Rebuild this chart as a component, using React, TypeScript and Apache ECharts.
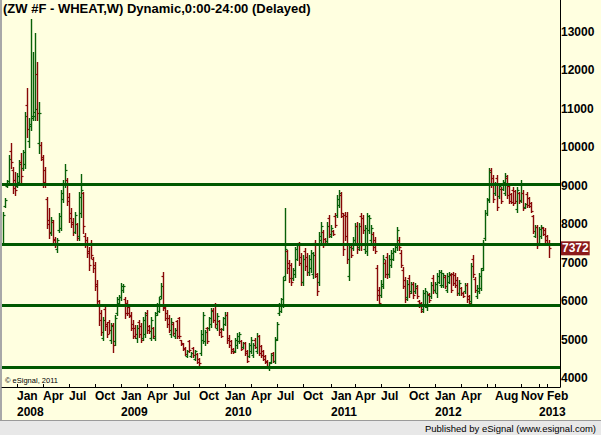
import React, { useEffect, useRef } from "react";
import * as echarts from "echarts";

const TITLE = "(ZW #F - WHEAT,W) Dynamic,0:00-24:00 (Delayed)";
const COPYRIGHT = "\u00A9 eSignal, 2011";
const PUBLISHED = "Published by eSignal (www.esignal.com)";
const FIRST_WEEK_UTC = [2007, 10, 16]; // Fri 16 Nov 2007
const PAD_WEEKS = 5;

// weekly bars: [open, close, low, high]
const bars2007: number[][] = [
  [7520, 8240, 7460, 8320], [8470, 8640, 8450, 8680], [9000, 9110, 8970, 9150], [9080, 9700, 9020, 9800],
  [9900, 9620, 9460, 10100], [9420, 8950, 8810, 9490], [9150, 8880, 8760, 9360],
];
const bars2008: number[][] = [
  [9000, 9260, 8970, 9330], [9100, 9560, 9020, 9670], [9620, 9250, 9020, 9850], [9450, 9870, 9410, 9930],
  [9560, 10820, 9460, 10920], [11100, 10480, 10270, 11540], [10150, 10600, 10010, 10760], [10550, 10800, 10450, 13330],
  [10760, 10920, 10710, 12480], [10800, 11000, 10710, 12970], [11900, 10900, 10710, 12220], [10100, 10900, 9860, 11180],
  [10050, 9750, 9670, 10140], [9700, 9100, 8970, 9800], [9400, 9050, 8970, 9490], [8650, 8000, 7900, 8710],
  [8100, 7800, 7640, 8420], [7780, 8100, 7720, 8190], [8050, 7600, 7510, 8110], [7620, 7450, 7410, 7670],
  [7350, 7600, 7280, 7640], [7850, 8200, 7800, 8290], [7900, 8800, 7850, 8890], [8650, 9050, 8580, 9150],
  [9050, 9400, 8970, 9560], [9150, 8600, 8500, 9200], [8700, 8150, 8060, 8810], [8300, 8000, 7930, 8420],
  [8050, 7800, 7720, 8160], [7800, 8250, 7770, 8320], [8000, 7650, 7590, 8030], [7700, 8700, 7590, 8840],
  [8300, 8900, 8190, 9300], [8800, 7950, 7770, 8840], [7700, 7450, 7410, 7770], [7600, 7250, 7150, 7670],
  [7300, 6950, 6810, 7410], [7500, 7200, 7120, 7590], [7100, 6850, 6760, 7150], [6950, 6400, 6290, 7020],
  [6450, 6000, 5900, 6550], [6000, 5500, 5380, 6030], [5700, 5200, 5120, 5770], [5050, 5500, 4990, 5590],
  [5800, 5350, 5250, 5900], [5400, 5150, 5070, 5460], [5450, 5250, 5170, 5510], [5000, 5350, 4910, 5430],
  [5380, 4850, 4680, 5430], [4950, 5550, 4860, 5640], [5700, 6050, 5640, 6110], [5950, 6100, 5900, 6160],
];
const bars2009: number[][] = [
  [6100, 6380, 6030, 6470], [6280, 6400, 6240, 6440], [6050, 5700, 5560, 6110], [5950, 5700, 5640, 6030],
  [5850, 5620, 5590, 5900], [5650, 5300, 5250, 5720], [5400, 5100, 5040, 5510], [5300, 5150, 5040, 5380],
  [5050, 5300, 4940, 5380], [5450, 5150, 5070, 5510], [5350, 5000, 4940, 5430], [5050, 5500, 4990, 5590],
  [5150, 5650, 5070, 5720], [5700, 5250, 5170, 5770], [5350, 5220, 5170, 5380], [5050, 5500, 4990, 5590],
  [5300, 5100, 5040, 5330], [5050, 5650, 4990, 5720], [5680, 5900, 5640, 5950], [5750, 6050, 5720, 6110],
  [6120, 6400, 6080, 6470], [6650, 5850, 5770, 6760], [5820, 5560, 5510, 5850], [5700, 5400, 5330, 5770],
  [5550, 5250, 5200, 5640], [5150, 5450, 5070, 5560], [5400, 5180, 5120, 5460], [5080, 5250, 5040, 5300],
  [5480, 5100, 5040, 5510], [5550, 5100, 5040, 5590], [4980, 4880, 4860, 4990], [4900, 4760, 4730, 4910],
  [4780, 4630, 4600, 4810], [4580, 4700, 4550, 4730], [4950, 4720, 4680, 4990], [4570, 4660, 4550, 4680],
  [4780, 4600, 4550, 4810], [4500, 4700, 4470, 4730], [4620, 4420, 4390, 4650], [4500, 4380, 4340, 4520],
  [4650, 5150, 4600, 5250], [5000, 5650, 4910, 5720], [4950, 5200, 4860, 5250], [5300, 4950, 4910, 5330],
  [5300, 5550, 5250, 5590], [5400, 5750, 5330, 5820], [5780, 5500, 5460, 5820], [5900, 5400, 5330, 5950],
  [5300, 5600, 5250, 5690], [5480, 5200, 5120, 5510], [5280, 5100, 5070, 5300], [5280, 5550, 5250, 5590],
];
const bars2010: number[][] = [
  [5400, 5650, 5380, 5720], [5650, 5000, 4910, 5720], [5050, 4850, 4810, 5120], [4950, 4700, 4650, 4990],
  [4760, 4680, 4650, 4780], [4700, 4980, 4680, 5040], [4850, 5100, 4780, 5170], [4950, 5150, 4910, 5200],
  [4960, 4760, 4730, 4990], [4800, 4900, 4780, 4940], [4900, 4650, 4600, 4940], [4700, 4450, 4420, 4730],
  [4580, 4850, 4550, 4910], [4700, 5000, 4650, 5070], [4600, 4850, 4550, 4910], [5000, 4800, 4780, 5040],
  [4700, 5100, 4650, 5170], [5080, 4650, 4600, 5120], [4830, 4600, 4550, 4860], [4700, 4500, 4470, 4730],
  [4580, 4420, 4390, 4600], [4450, 4320, 4290, 4470], [4250, 4380, 4210, 4420], [4420, 4600, 4390, 4650],
  [4650, 4450, 4420, 4680], [4450, 5000, 4390, 5070], [5020, 5400, 4990, 5460], [5680, 5900, 5640, 5950],
  [5750, 6050, 5720, 6080], [5900, 6550, 5850, 6630], [6650, 7350, 6550, 8420], [7300, 6850, 6730, 7330],
  [7000, 6600, 6500, 7070], [6950, 6500, 6420, 6990], [6600, 6800, 6550, 6860], [6700, 7350, 6630, 7410],
  [7100, 7450, 7070, 7510], [7500, 7000, 6940, 7540], [7150, 6500, 6420, 7250], [6500, 7100, 6420, 7200],
  [7300, 6900, 6810, 7380], [7150, 6750, 6680, 7250], [6750, 7100, 6680, 7200], [6850, 7250, 6760, 7330],
  [6700, 7200, 6600, 7280], [7500, 6700, 6630, 7590], [6650, 6250, 6160, 6730], [6500, 7700, 6420, 7800],
  [7600, 7950, 7510, 8060], [7800, 7450, 7410, 7850], [7620, 7560, 7540, 7640], [7550, 7950, 7510, 8060],
  [8150, 7750, 7670, 8240],
];
const bars2011: number[][] = [
  [7700, 7900, 7670, 7980], [7830, 7750, 7720, 7850], [8200, 7980, 7930, 8290], [8250, 8650, 8190, 8760],
  [8500, 8800, 8450, 8890], [8750, 8300, 8190, 8840], [8200, 7350, 7200, 8290], [8250, 7700, 7590, 8320],
  [8200, 7100, 6990, 8320], [6650, 7400, 6550, 7510], [7450, 7200, 7150, 7510], [7380, 7600, 7330, 7670],
  [7600, 7950, 7540, 8030], [7950, 7350, 7250, 8060], [7400, 7950, 7330, 8030], [8200, 7450, 7330, 8290],
  [8150, 7850, 7770, 8240], [7350, 7900, 7250, 7980], [7300, 8200, 7200, 8290], [7850, 8150, 7770, 8240],
  [7600, 7900, 7510, 7980], [7750, 7400, 7330, 7800], [7600, 7300, 7250, 7670], [6850, 6150, 6030, 6940],
  [6300, 5950, 5900, 6370], [6150, 6450, 6110, 6550], [6400, 7100, 6340, 7200], [7000, 6700, 6630, 7070],
  [7150, 6700, 6600, 7250], [6700, 7100, 6630, 7200], [6950, 7250, 6890, 7330], [7100, 7300, 7070, 7380],
  [7300, 7450, 7280, 7510], [7400, 7850, 7330, 7930], [7600, 7400, 7330, 7670], [7250, 6950, 6890, 7330],
  [6800, 6400, 6340, 6890], [6550, 6050, 5980, 6630], [6100, 6450, 6030, 6550], [6600, 6200, 6110, 6680],
  [6250, 6450, 6210, 6500], [6450, 6150, 6080, 6500], [6250, 6400, 6210, 6470], [6350, 6120, 6080, 6420],
  [6000, 5880, 5850, 6030], [5950, 5750, 5720, 5980], [5800, 6200, 5720, 6290], [5900, 6250, 5850, 6340],
  [5850, 6150, 5770, 6240], [6180, 6020, 5980, 6210], [6120, 6420, 6080, 6500], [6600, 6280, 6210, 6680],
];
const bars2012: number[][] = [
  [6280, 6450, 6240, 6500], [6200, 6650, 6110, 6730], [6500, 6750, 6470, 6810], [6420, 6720, 6370, 6810],
  [6420, 6680, 6370, 6730], [6620, 6400, 6340, 6680], [6300, 6650, 6240, 6730], [6500, 6700, 6470, 6760],
  [6680, 6300, 6240, 6730], [6700, 6480, 6420, 6760], [6680, 6420, 6370, 6730], [6550, 6220, 6160, 6630],
  [6200, 6480, 6160, 6550], [6330, 6200, 6160, 6370], [6220, 6130, 6110, 6240], [6250, 6420, 6210, 6470],
  [6420, 6050, 5980, 6470], [6120, 5950, 5900, 6160], [6000, 6900, 5950, 6990], [7100, 6700, 6630, 7200],
  [6580, 6300, 6240, 6630], [6120, 6350, 6080, 6420], [6250, 6650, 6210, 6730], [6350, 6800, 6290, 6860],
  [6850, 7500, 6810, 7590], [7650, 8300, 7590, 8370], [8280, 8620, 8240, 8680], [8650, 9350, 8580, 9460],
  [9400, 9050, 8970, 9460], [9200, 8650, 8580, 9280], [8800, 9050, 8760, 9100], [9200, 8450, 8370, 9280],
  [8720, 9000, 8680, 9070], [8920, 8600, 8550, 8970], [8920, 9100, 8890, 9150], [8800, 9250, 8760, 9330],
  [9200, 8750, 8680, 9280], [9000, 8600, 8550, 9070], [8780, 8580, 8550, 8810], [8900, 8550, 8500, 8970],
  [8850, 8600, 8550, 8890], [8400, 8900, 8320, 8970], [8800, 8600, 8550, 8840], [8620, 9050, 8580, 9150],
  [8820, 8420, 8370, 8890], [8440, 8520, 8420, 8550], [8780, 8500, 8450, 8840], [8680, 8480, 8450, 8710],
  [8550, 8350, 8320, 8580], [8200, 7820, 7770, 8240], [7700, 7930, 7670, 7980], [7920, 7450, 7380, 7980],
];
const bars2013: number[][] = [
  [7500, 7880, 7460, 7930], [7680, 7930, 7640, 7980], [7900, 7750, 7720, 7930], [7850, 7580, 7540, 7900],
  [7680, 7500, 7460, 7720], [7500, 7372, 7150, 7590],
];

const levels = [9040, 7470, 5880, 4270];
const yTicks = [4000, 5000, 6000, 7000, 8000, 9000, 10000, 11000, 12000, 13000];
const Y_MIN = 3766;
const Y_MAX = 13828;
const monthNames = ["Jan", "Feb", "Mar", "Apr", "May", "Jun", "Jul", "Aug", "Sep", "Oct", "Nov", "Dec"];
const monthLabelKeys = [
  "2008-01", "2008-04", "2008-07", "2008-10", "2009-01", "2009-04", "2009-07", "2009-10",
  "2010-01", "2010-04", "2010-07", "2010-10", "2011-01", "2011-04", "2011-07", "2011-10",
  "2012-01", "2012-04", "2012-08", "2012-11", "2013-02",
];
const yearLabelKeys = ["2008-01", "2009-01", "2010-01", "2011-01", "2012-01", "2013-01"];
const tickKeys = [...monthLabelKeys, "2012-07", "2013-01"];

const UP = "#086008";
const DOWN = "#880808";
const LEVEL = "#005800";
const FONT = "'Liberation Sans', Arial, sans-serif";

export default function App() {
  const ref = useRef<HTMLDivElement>(null);
  useEffect(() => {
    const chart = echarts.init(ref.current!, null, { renderer: "svg" });
    const allBars = [...bars2007, ...bars2008, ...bars2009, ...bars2010, ...bars2011, ...bars2012, ...bars2013];
    const lastClose = allBars[allBars.length - 1][1];
    const t0 = Date.UTC(FIRST_WEEK_UTC[0], FIRST_WEEK_UTC[1], FIRST_WEEK_UTC[2]);
    const weeks: string[] = [];
    for (let i = 0; i < allBars.length + PAD_WEEKS; i++) {
      weeks.push(new Date(t0 + i * 7 * 86400000).toISOString().slice(0, 10));
    }
    const isFirstWeek = (v: string) => Number(v.slice(8, 10)) <= 7;
    const data = allBars.map((b, i) => [i, b[0], b[1], b[2], b[3]]);
    const labelStyle = {
      color: "#000",
      fontFamily: FONT,
      fontWeight: "bold",
      fontSize: 12,
    };

    const option: any = {
      animation: false,
      backgroundColor: "#ffffe0",
      grid: { left: 2, right: 41, top: 0, bottom: 48, containLabel: false, outerBoundsMode: "none" },
      xAxis: [
        {
          type: "category",
          data: weeks,
          position: "bottom",
          boundaryGap: true,
          axisLine: { show: true, lineStyle: { color: "#000", width: 1 } },
          axisTick: {
            show: true,
            inside: true,
            length: 3,
            alignWithLabel: true,
            lineStyle: { color: "#000" },
            interval: (_i: number, v: string) => isFirstWeek(v) && tickKeys.includes(v.slice(0, 7)),
          },
          axisLabel: {
            show: true,
            hideOverlap: false,
            interval: (_i: number, v: string) => isFirstWeek(v) && monthLabelKeys.includes(v.slice(0, 7)),
            align: "left",
            verticalAlign: "top",
            margin: 3,
            ...labelStyle,
            formatter: (v: string) => monthNames[Number(v.slice(5, 7)) - 1],
          },
          splitLine: { show: false },
        },
        {
          type: "category",
          data: weeks,
          position: "bottom",
          offset: 0,
          boundaryGap: true,
          axisLine: { show: false },
          axisTick: { show: false },
          axisLabel: {
            show: true,
            hideOverlap: false,
            interval: (_i: number, v: string) => isFirstWeek(v) && yearLabelKeys.includes(v.slice(0, 7)),
            align: "left",
            verticalAlign: "top",
            margin: 19,
            ...labelStyle,
            formatter: (v: string) => v.slice(0, 4),
          },
          splitLine: { show: false },
        },
      ],
      yAxis: {
        type: "value",
        position: "right",
        min: Y_MIN,
        max: Y_MAX,
        axisLine: { show: true, lineStyle: { color: "#000", width: 1 } },
        axisTick: { show: false },
        splitLine: { show: false },
        axisLabel: {
          show: true,
          customValues: [...yTicks, lastClose],
          hideOverlap: false,
          margin: 1,
          align: "left",
          ...labelStyle,
          formatter: (v: number) => (v === lastClose ? "{p|" + v + "}" : String(v)),
          rich: {
            p: {
              backgroundColor: "#8b1a1a",
              color: "#fff",
              fontFamily: FONT,
              fontWeight: "bold",
              fontSize: 12,
              lineHeight: 14,
              padding: [1, 1, 1, 1],
            },
          },
        },
      },
      series: [
        {
          type: "custom",
          xAxisIndex: 0,
          data,
          encode: { x: 0, y: [1, 2, 3, 4] },
          clip: true,
          renderItem: (_params: any, api: any) => {
            const idx = api.value(0);
            const o = api.value(1);
            const c = api.value(2);
            const l = api.value(3);
            const h = api.value(4);
            const pO = api.coord([idx, o]);
            const yC = api.coord([idx, c])[1];
            const yL = api.coord([idx, l])[1];
            const yH = api.coord([idx, h])[1];
            const x = Math.round(pO[0]) + 0.5;
            const color = c >= o ? UP : DOWN;
            const style = { stroke: color, lineWidth: 1.4 };
            const tick = { stroke: color, lineWidth: 1.2 };
            return {
              type: "group",
              children: [
                { type: "line", shape: { x1: x, y1: Math.round(yH), x2: x, y2: Math.round(yL) + 1 }, style },
                { type: "line", shape: { x1: x - 2, y1: Math.round(pO[1]) + 0.5, x2: x, y2: Math.round(pO[1]) + 0.5 }, style: tick },
                { type: "line", shape: { x1: x, y1: Math.round(yC) + 0.5, x2: x + 2, y2: Math.round(yC) + 0.5 }, style: tick },
              ],
            };
          },
          markLine: {
            silent: true,
            symbol: ["none", "none"],
            label: { show: false },
            lineStyle: { color: LEVEL, width: 3, type: "solid" },
            data: levels.map((v) => ({ yAxis: v })),
          },
        },
      ],
      graphic: [
        {
          type: "text",
          left: 3,
          top: 2,
          style: { text: TITLE, fill: "#000", font: `bold 13px ${FONT}` },
        },
        {
          type: "text",
          left: 5,
          top: 376,
          style: { text: COPYRIGHT, fill: "#000", font: `7.5px ${FONT}` },
        },
        { type: "rect", shape: { x: 0, y: 0, width: 2, height: 420 }, style: { fill: "#a8a8a8" } },
        { type: "rect", shape: { x: 0, y: 420, width: 601, height: 15 }, style: { fill: "#e8e8e8" } },
        { type: "line", shape: { x1: 0, y1: 420.5, x2: 601, y2: 420.5 }, style: { stroke: "#9a9a9a", lineWidth: 1 } },
        {
          type: "text",
          right: 5,
          top: 423,
          style: { text: PUBLISHED, fill: "#000", font: `9.5px ${FONT}` },
        },
      ],
    };
    chart.setOption(option);
    return () => chart.dispose();
  }, []);
  return <div ref={ref} style={{ position: "fixed", left: 0, top: 0, width: 601, height: 435 }} />;
}
